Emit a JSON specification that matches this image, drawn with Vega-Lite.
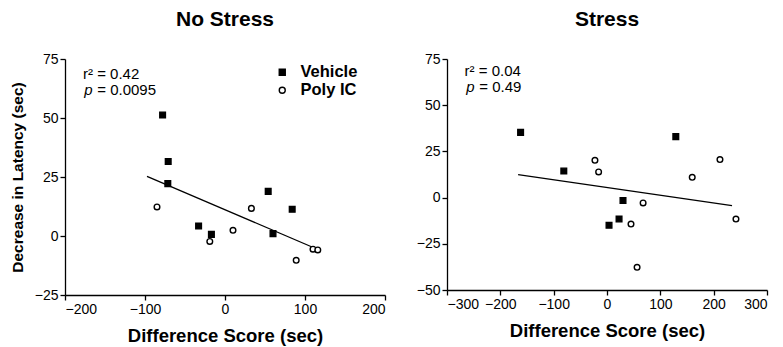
{
  "$schema": "https://vega.github.io/schema/vega-lite/v6.json",
  "background": "white",
  "padding": {"left": 10, "top": 9, "right": 2, "bottom": 2},
  "bounds": "flush",
  "spacing": 62,
  "config": {
    "font": "Liberation Sans",
    "view": {"stroke": null},
    "title": {"fontSize": 21, "fontWeight": "bold", "color": "black", "offset": 22, "anchor": "middle"},
    "axis": {
      "grid": false,
      "domainColor": "black",
      "domainWidth": 1.3,
      "tickColor": "black",
      "tickWidth": 1.3,
      "tickSize": 5,
      "labelFontSize": 14,
      "labelColor": "black",
      "labelPadding": 2,
      "titleFontSize": 18.5,
      "titleFontWeight": "bold",
      "titleColor": "black",
      "titlePadding": 10
    },
    "axisY": {"titleFontSize": 15.5, "titlePadding": 9}
  },
  "datasets": {
    "nostress": [
      {"group": "Vehicle", "diff": -78, "lat": 51.3},
      {"group": "Vehicle", "diff": -71, "lat": 31.6},
      {"group": "Vehicle", "diff": -71.5, "lat": 22.2},
      {"group": "Vehicle", "diff": -33, "lat": 4.2},
      {"group": "Vehicle", "diff": -17, "lat": 0.7},
      {"group": "Vehicle", "diff": 54, "lat": 18.9},
      {"group": "Vehicle", "diff": 84, "lat": 11.3},
      {"group": "Vehicle", "diff": 60, "lat": 1.0},
      {"group": "Poly IC", "diff": -85, "lat": 12.3},
      {"group": "Poly IC", "diff": -19, "lat": -2.3},
      {"group": "Poly IC", "diff": 10, "lat": 2.4},
      {"group": "Poly IC", "diff": 33, "lat": 11.7},
      {"group": "Poly IC", "diff": 89, "lat": -10.3},
      {"group": "Poly IC", "diff": 110, "lat": -5.6},
      {"group": "Poly IC", "diff": 116, "lat": -5.9}
    ],
    "nostress_fit": [
      {"diff": -97.5, "lat": 25.3},
      {"diff": 112.5, "lat": -5.2}
    ],
    "nostress_ann": [
      {"kind": "main", "diff": -177.5, "lat": 68.7, "text": "r² = 0.42"},
      {"kind": "p", "diff": -176, "lat": 62.0, "text": "p"},
      {"kind": "rest", "diff": -176, "lat": 62.0, "text": "= 0.0095"}
    ],
    "stress": [
      {"group": "Vehicle", "diff": -162, "lat": 35.3},
      {"group": "Vehicle", "diff": -81, "lat": 14.4},
      {"group": "Vehicle", "diff": 30, "lat": -1.6},
      {"group": "Vehicle", "diff": 22.6, "lat": -11.6},
      {"group": "Vehicle", "diff": 3.8, "lat": -15},
      {"group": "Vehicle", "diff": 129, "lat": 33},
      {"group": "Poly IC", "diff": -22.6, "lat": 20.2},
      {"group": "Poly IC", "diff": -15.7, "lat": 13.9},
      {"group": "Poly IC", "diff": 67.7, "lat": -2.9},
      {"group": "Poly IC", "diff": 45, "lat": -14.3},
      {"group": "Poly IC", "diff": 56.4, "lat": -37.7},
      {"group": "Poly IC", "diff": 159.8, "lat": 11},
      {"group": "Poly IC", "diff": 211.8, "lat": 20.6},
      {"group": "Poly IC", "diff": 241.8, "lat": -11.6}
    ],
    "stress_fit": [
      {"diff": -166.7, "lat": 12.4},
      {"diff": 234.4, "lat": -4.3}
    ],
    "stress_ann": [
      {"kind": "main", "diff": -267, "lat": 68.4, "text": "r² = 0.04"},
      {"kind": "p", "diff": -264, "lat": 59.7, "text": "p"},
      {"kind": "rest", "diff": -264, "lat": 59.7, "text": "= 0.49"}
    ]
  },
  "hconcat": [
    {
      "title": "No Stress",
      "width": 320,
      "height": 236,
      "encoding": {
        "x": {"field": "diff", "type": "quantitative", "scale": {"domain": [-200, 200], "nice": false, "zero": false},
              "axis": {"values": [-200, -100, 0, 100, 200], "title": "Difference Score (sec)"}},
        "y": {"field": "lat", "type": "quantitative", "scale": {"domain": [-25, 75], "nice": false, "zero": false},
              "axis": {"values": [-25, 0, 25, 50, 75], "title": "Decrease in Latency (sec)"}}
      },
      "layer": [
        {
          "data": {"name": "nostress_fit"},
          "mark": {"type": "line", "color": "black", "strokeWidth": 1.3},
          "encoding": {}
        },
        {
          "data": {"name": "nostress"},
          "mark": {"type": "point", "filled": true, "stroke": "black", "strokeWidth": 1.4, "size": 32, "opacity": 1},
          "encoding": {
            "shape": {"field": "group", "type": "nominal", "scale": {"domain": ["Vehicle", "Poly IC"], "range": ["square", "circle"]},
                      "legend": {"title": null, "orient": "none", "legendX": 209, "legendY": 5, "labelFontSize": 16.5, "labelFontWeight": "bold", "labelColor": "black", "symbolSize": 36, "symbolStrokeWidth": 1.4, "labelOffset": 10, "rowPadding": 1}},
            "fill": {"field": "group", "type": "nominal", "scale": {"domain": ["Vehicle", "Poly IC"], "range": ["black", "white"]},
                     "legend": {"title": null, "orient": "none", "legendX": 209, "legendY": 5, "labelFontSize": 16.5, "labelFontWeight": "bold", "labelColor": "black", "symbolSize": 36, "symbolStrokeWidth": 1.4, "labelOffset": 10, "rowPadding": 1}}
          }
        },
        {
          "data": {"name": "nostress_ann"},
          "transform": [{"filter": "datum.kind == 'main'"}],
          "mark": {"type": "text", "align": "left", "baseline": "middle", "fontSize": 15, "color": "black"},
          "encoding": {"text": {"field": "text"}}
        },
        {
          "data": {"name": "nostress_ann"},
          "transform": [{"filter": "datum.kind == 'p'"}],
          "mark": {"type": "text", "align": "left", "baseline": "middle", "fontSize": 15, "fontStyle": "italic", "color": "black"},
          "encoding": {"text": {"field": "text"}}
        },
        {
          "data": {"name": "nostress_ann"},
          "transform": [{"filter": "datum.kind == 'rest'"}],
          "mark": {"type": "text", "align": "left", "baseline": "middle", "fontSize": 15, "dx": 13, "color": "black"},
          "encoding": {"text": {"field": "text"}}
        }
      ]
    },
    {
      "title": "Stress",
      "width": 320,
      "height": 231,
      "encoding": {
        "x": {"field": "diff", "type": "quantitative", "scale": {"domain": [-300, 300], "nice": false, "zero": false},
              "axis": {"values": [-300, -200, -100, 0, 100, 200, 300], "title": "Difference Score (sec)"}},
        "y": {"field": "lat", "type": "quantitative", "scale": {"domain": [-50, 75], "nice": false, "zero": false},
              "axis": {"values": [-50, -25, 0, 25, 50, 75], "title": null}}
      },
      "layer": [
        {
          "data": {"name": "stress_fit"},
          "mark": {"type": "line", "color": "black", "strokeWidth": 1.3},
          "encoding": {}
        },
        {
          "data": {"name": "stress"},
          "mark": {"type": "point", "filled": true, "stroke": "black", "strokeWidth": 1.4, "size": 32, "opacity": 1},
          "encoding": {
            "shape": {"field": "group", "type": "nominal", "scale": {"domain": ["Vehicle", "Poly IC"], "range": ["square", "circle"]}, "legend": null},
            "fill": {"field": "group", "type": "nominal", "scale": {"domain": ["Vehicle", "Poly IC"], "range": ["black", "white"]}, "legend": null}
          }
        },
        {
          "data": {"name": "stress_ann"},
          "transform": [{"filter": "datum.kind == 'main'"}],
          "mark": {"type": "text", "align": "left", "baseline": "middle", "fontSize": 15, "color": "black"},
          "encoding": {"text": {"field": "text"}}
        },
        {
          "data": {"name": "stress_ann"},
          "transform": [{"filter": "datum.kind == 'p'"}],
          "mark": {"type": "text", "align": "left", "baseline": "middle", "fontSize": 15, "fontStyle": "italic", "color": "black"},
          "encoding": {"text": {"field": "text"}}
        },
        {
          "data": {"name": "stress_ann"},
          "transform": [{"filter": "datum.kind == 'rest'"}],
          "mark": {"type": "text", "align": "left", "baseline": "middle", "fontSize": 15, "dx": 13, "color": "black"},
          "encoding": {"text": {"field": "text"}}
        }
      ]
    }
  ],
  "resolve": {"scale": {"x": "independent", "y": "independent", "shape": "independent", "fill": "independent"}, "legend": {"shape": "independent", "fill": "independent"}}
}
